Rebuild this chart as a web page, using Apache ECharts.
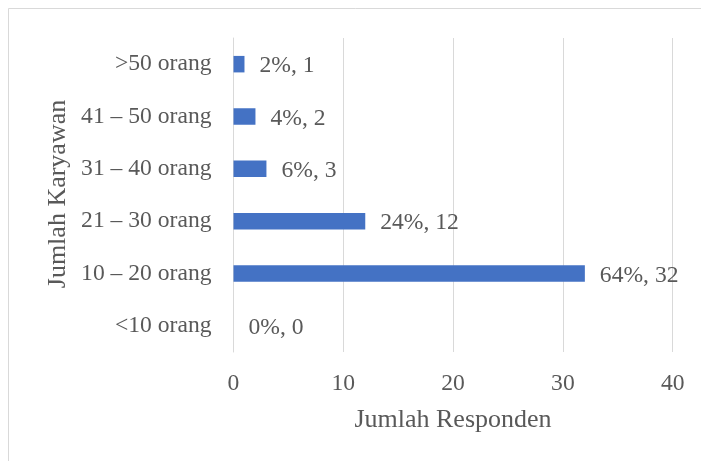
<!DOCTYPE html>
<html>
<head>
<meta charset="utf-8">
<script src="https://cdn.jsdelivr.net/npm/echarts@6/dist/echarts.min.js"></script>
<style>html,body{margin:0;padding:0;background:#fff;}#c{width:701px;height:461px;}</style>
</head>
<body>
<div id="c"></div>
<script>
const categories = ['<10 orang', '10 – 20 orang', '21 – 30 orang', '31 – 40 orang', '41 – 50 orang', '>50 orang'];
const counts = [0, 32, 12, 3, 2, 1];
const percents = ['0%', '64%', '24%', '6%', '4%', '2%'];
const xTicks = [0, 10, 20, 30, 40];
const xTitle = 'Jumlah Responden';
const yTitle = 'Jumlah Karyawan';

const FONT = '"Liberation Serif", "Times New Roman", serif';
const TXT = '#595959';
const GRID = '#d9d9d9';

const chart = echarts.init(document.getElementById('c'), null, {renderer: 'canvas'});
chart.setOption({
  animation: false,
  backgroundColor: '#fff',
  grid: {left: 233.5, top: 38, width: 439.2, height: 314, containLabel: false},
  xAxis: {
    type: 'value',
    min: xTicks[0],
    max: xTicks[xTicks.length - 1],
    interval: xTicks[1] - xTicks[0],
    axisLine: {show: false},
    axisTick: {show: false},
    splitLine: {show: true, lineStyle: {color: GRID, width: 1}},
    axisLabel: {color: TXT, fontFamily: FONT, fontSize: 23.6, margin: 20}
  },
  yAxis: {
    type: 'category',
    data: categories,
    axisLine: {show: true, lineStyle: {color: GRID, width: 1}},
    axisTick: {show: false},
    splitLine: {show: false},
    axisLabel: {color: TXT, fontFamily: FONT, fontSize: 23.6, margin: 22, padding: [4, 0, 0, 0]}
  },
  series: [{
    type: 'bar',
    data: counts,
    barWidth: 16.5,
    itemStyle: {color: '#4472C4'},
    label: {
      show: true,
      position: 'right',
      distance: 15,
      offset: [0, 2],
      color: TXT,
      fontFamily: FONT,
      fontSize: 23.6,
      formatter: p => percents[p.dataIndex] + ', ' + counts[p.dataIndex]
    }
  }],
  graphic: [
    {type: 'rect', shape: {x: 8.5, y: 8.5, width: 1000, height: 1000}, style: {fill: 'none', stroke: GRID, lineWidth: 1}, silent: true},
    {type: 'text', x: 453, y: 420, style: {text: xTitle, fill: TXT, font: '26px ' + FONT, textAlign: 'center', textVerticalAlign: 'middle'}},
    {type: 'text', x: 58, y: 194, rotation: Math.PI / 2, style: {text: yTitle, fill: TXT, font: '26px ' + FONT, textAlign: 'center', textVerticalAlign: 'middle'}}
  ]
});
</script>
</body>
</html>
